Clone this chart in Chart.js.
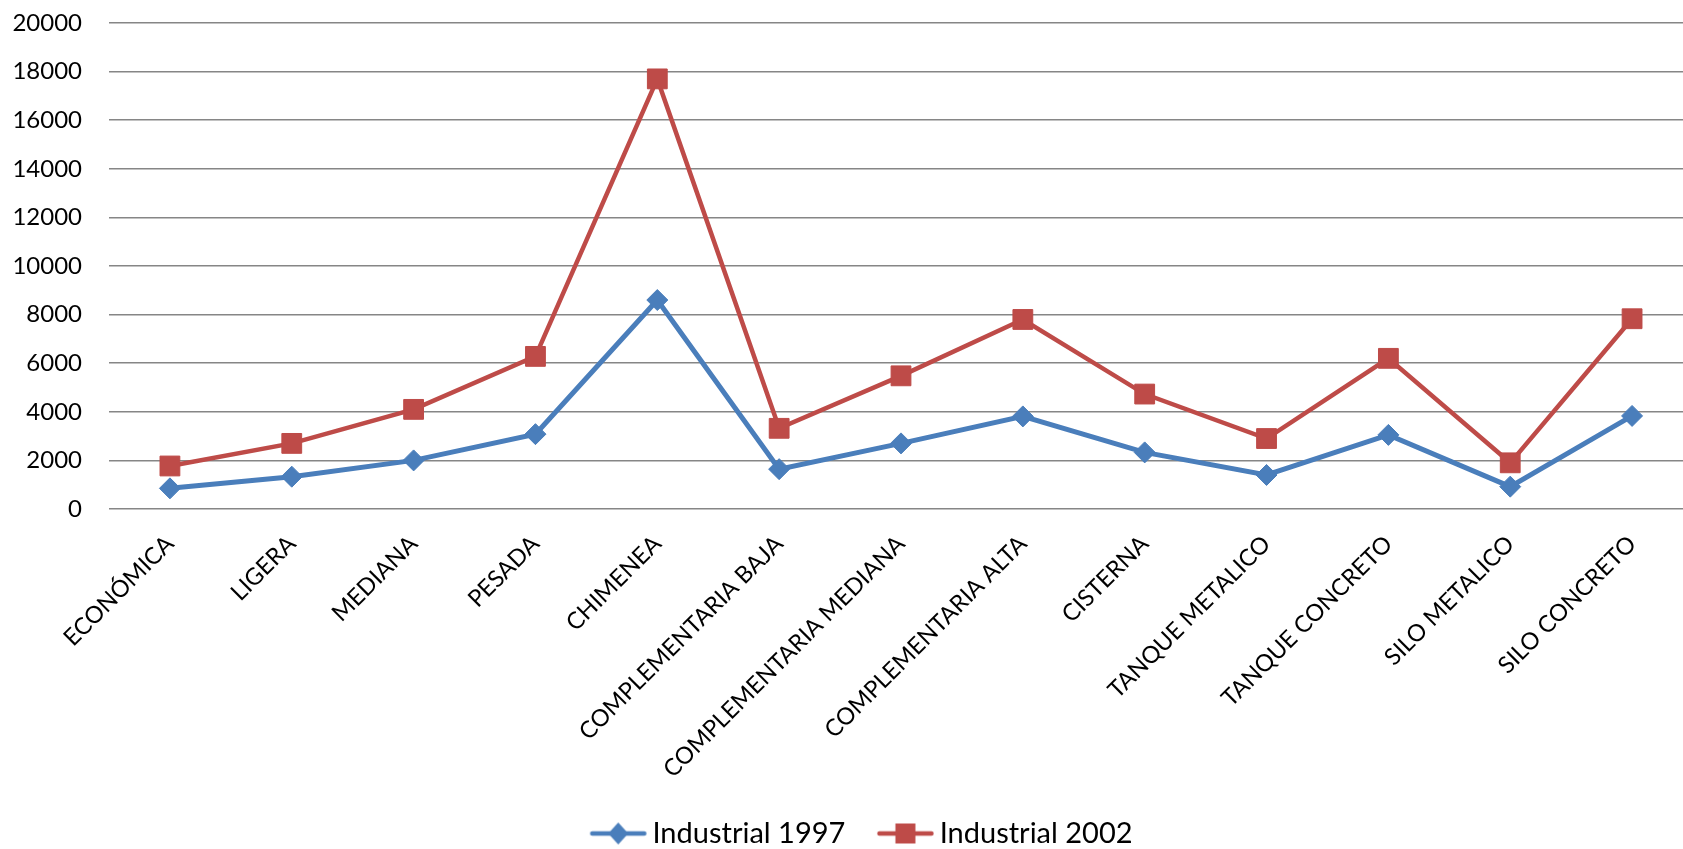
<!DOCTYPE html>
<html>
<head>
<meta charset="utf-8">
<script src="https://cdn.jsdelivr.net/npm/chart.js@4/dist/chart.umd.min.js"></script>
<style>
  html, body { margin: 0; padding: 0; background: #fff; overflow: hidden; }
  #wrap { position: absolute; left: 0; top: 0; width: 1723px; height: 849px; }
</style>
</head>
<body>
<div id="wrap"><canvas id="chart"></canvas></div>
<script>
'use strict';

// ── data ──
const CATEGORIES = [
  'ECONÓMICA', 'LIGERA', 'MEDIANA', 'PESADA', 'CHIMENEA',
  'COMPLEMENTARIA BAJA', 'COMPLEMENTARIA MEDIANA', 'COMPLEMENTARIA ALTA',
  'CISTERNA', 'TANQUE METALICO', 'TANQUE CONCRETO', 'SILO METALICO', 'SILO CONCRETO',
];
const IND_1997 = [850, 1330, 2000, 3080, 8600, 1640, 2700, 3810, 2330, 1400, 3050, 920, 3830];
const IND_2002 = [1770, 2700, 4100, 6280, 17700, 3320, 5480, 7800, 4730, 2900, 6200, 1900, 7830];
const Y_TICKS = [0, 2000, 4000, 6000, 8000, 10000, 12000, 14000, 16000, 18000, 20000];

const BLUE = '#4A7EBB';
const RED = '#BE4B48';
const FONT = 'Lato, "Open Sans", sans-serif';

// legend geometry: line runs from the item start to just before the text
const LEG_FONT = 29;
const LEG_LINE = 56;
const LEG_BOX = LEG_LINE - LEG_FONT / 2 + 6;   // text starts 6px after the line ends
const LEG_PAD = 10;

function legendIcon(color, shape) {
  const half = Math.max(LEG_BOX / 2 + 3, LEG_LINE - LEG_BOX / 2 + 3);
  const c = document.createElement('canvas');
  c.width = Math.ceil(half * 2); c.height = 26;
  const g = c.getContext('2d');
  const x0 = half - LEG_BOX / 2;          // item start inside the icon
  const cx = x0 + LEG_LINE / 2;
  g.strokeStyle = color;
  g.lineWidth = 4.5;
  g.lineCap = 'round';
  g.beginPath(); g.moveTo(x0 + 2, 13); g.lineTo(x0 + LEG_LINE - 2, 13); g.stroke();
  g.fillStyle = color;
  g.beginPath();
  if (shape === 'diamond') {
    g.moveTo(cx, 2); g.lineTo(cx + 10, 13); g.lineTo(cx, 24); g.lineTo(cx - 10, 13);
  } else {
    g.rect(cx - 10, 3, 20, 20);
  }
  g.closePath(); g.fill();
  return c;
}

const ICONS = [legendIcon(BLUE, 'diamond'), legendIcon(RED, 'square')];

new Chart(document.getElementById('chart'), {
  type: 'line',
  data: {
    labels: CATEGORIES,
    datasets: [
      {
        label: 'Industrial 1997',
        data: IND_1997,
        borderColor: BLUE,
        backgroundColor: BLUE,
        borderWidth: 5,
        pointStyle: 'rectRot',
        pointRadius: 10.5,
        pointHoverRadius: 10.5,
        pointBorderWidth: 1,
        tension: 0,
      },
      {
        label: 'Industrial 2002',
        data: IND_2002,
        borderColor: RED,
        backgroundColor: RED,
        borderWidth: 4.5,
        pointStyle: 'rect',
        pointRadius: 14,
        pointHoverRadius: 14,
        pointBorderWidth: 1,
        tension: 0,
      },
    ],
  },
  options: {
    responsive: true,
    maintainAspectRatio: false,
    animation: false,
    layout: { padding: { left: 0, right: 0, top: 23, bottom: -9 } },
    plugins: {
      tooltip: { enabled: false },
      legend: {
        position: 'bottom',
        labels: {
          color: '#000',
          font: { family: FONT, size: LEG_FONT },
          usePointStyle: true,
          pointStyleWidth: LEG_BOX,
          padding: LEG_PAD,
          generateLabels: (chart) => {
            const items = Chart.defaults.plugins.legend.labels.generateLabels(chart);
            items.forEach((it, i) => {
              it.pointStyle = ICONS[i];
              // trailing spaces widen the gap before the next entry
              if (i < items.length - 1) it.text += '   ';
            });
            return items;
          },
        },
      },
    },
    scales: {
      x: {
        offset: true,
        grid: { display: false },
        border: { display: false },
        afterFit: (axis) => {
          axis.height = 300;
          axis.paddingLeft = 0;
          axis.paddingRight = 0;
        },
        ticks: {
          color: '#000',
          font: { family: FONT, size: 23.5 },
          minRotation: 45,
          maxRotation: 45,
          autoSkip: false,
          padding: 13,
        },
      },
      y: {
        min: 0,
        max: 20000,
        afterBuildTicks: (axis) => { axis.ticks = Y_TICKS.map(v => ({ value: v })); },
        afterFit: (axis) => {
          axis.width = 109;
          axis.paddingTop = 0;
          axis.paddingBottom = 0;
        },
        grid: { color: '#868686', lineWidth: 1.5, drawTicks: false },
        border: { display: false },
        ticks: {
          color: '#000',
          font: { family: FONT, size: 24 },
          padding: 27,
          callback: (v) => String(v),
        },
      },
      // empty right-hand strip: the plot runs past the picture edge
      yRight: {
        position: 'right',
        display: true,
        grid: { display: false },
        border: { display: false },
        ticks: { display: false },
        afterFit: (axis) => { axis.width = 30; },
      },
    },
  },
});
</script>
</body>
</html>
